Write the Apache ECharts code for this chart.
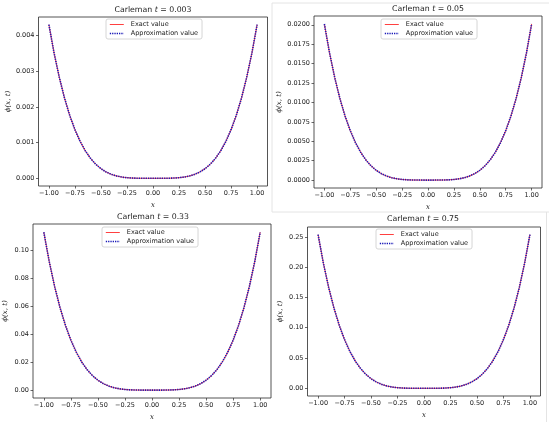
<!DOCTYPE html>
<html>
<head>
<meta charset="utf-8">
<script src="https://cdn.jsdelivr.net/npm/echarts@6/dist/echarts.min.js"></script>
<style>html,body{margin:0;padding:0;background:#fff}#c{width:550px;height:422px}</style>
</head>
<body>
<div id="c"></div>
<script>
// ---- data ----
var xs = [-1.00,-0.95,-0.90,-0.85,-0.80,-0.75,-0.70,-0.65,-0.60,-0.55,-0.50,-0.45,-0.40,-0.35,-0.30,-0.25,-0.20,-0.15,-0.10,-0.05,0.00,
          0.05,0.10,0.15,0.20,0.25,0.30,0.35,0.40,0.45,0.50,0.55,0.60,0.65,0.70,0.75,0.80,0.85,0.90,0.95,1.00];

var phi_t003 = [0.00431,0.00351,0.00283,0.00225,0.001765,0.001364,0.001035,0.000769,0.000559,0.000394,0.000269,0.000177,0.000110,0.0000647,0.0000349,0.0000168,0.0000069,0.0000022,0.0000004,0.0,0.0,
                0.0,0.0000004,0.0000022,0.0000069,0.0000168,0.0000349,0.0000647,0.000110,0.000177,0.000269,0.000394,0.000559,0.000769,0.001035,0.001364,0.001765,0.00225,0.00283,0.00351,0.00431];
var phi_t05 = [0.0201,0.01637,0.01319,0.01049,0.00823,0.00636,0.00483,0.00359,0.00260,0.00184,0.001256,0.000824,0.000515,0.000302,0.000163,0.0000785,0.0000322,0.0000102,0.000002,0.0000001,0.0,
               0.0000001,0.000002,0.0000102,0.0000322,0.0000785,0.000163,0.000302,0.000515,0.000824,0.001256,0.00184,0.00260,0.00359,0.00483,0.00636,0.00823,0.01049,0.01319,0.01637,0.0201];
var phi_t33 = [0.113,0.09204,0.07414,0.05899,0.04628,0.03575,0.02713,0.02017,0.01464,0.01034,0.00706,0.00463,0.00289,0.00170,0.000915,0.000441,0.000181,0.0000572,0.0000113,0.0000007,0.0,
               0.0000007,0.0000113,0.0000572,0.000181,0.000441,0.000915,0.00170,0.00289,0.00463,0.00706,0.01034,0.01464,0.02017,0.02713,0.03575,0.04628,0.05899,0.07414,0.09204,0.113];
var phi_t75 = [0.2535,0.20648,0.16632,0.13233,0.10383,0.08021,0.06087,0.04525,0.03285,0.02320,0.01584,0.01040,0.00649,0.00380,0.00205,0.00099,0.000406,0.000128,0.0000254,0.0000016,0.0,
               0.0000016,0.0000254,0.000128,0.000406,0.00099,0.00205,0.00380,0.00649,0.01040,0.01584,0.02320,0.03285,0.04525,0.06087,0.08021,0.10383,0.13233,0.16632,0.20648,0.2535];

var titles = ['0.003','0.05','0.33','0.75'];
var seriesNames = ['Exact value','Approximation value'];
var xTicks = [-1.00,-0.75,-0.50,-0.25,0.00,0.25,0.50,0.75,1.00];
var yTicks1 = [0.000,0.001,0.002,0.003,0.004];
var yTicks2 = [0.0000,0.0025,0.0050,0.0075,0.0100,0.0125,0.0150,0.0175,0.0200];
var yTicks3 = [0.00,0.02,0.04,0.06,0.08,0.10];
var yTicks4 = [0.00,0.05,0.10,0.15,0.20,0.25];

// ---- layout ----
var panels = [
  {vals: phi_t003, yt: yTicks1, dec: 3, ymin: -0.000216, ymax: 0.004526, box: [38.5, 17, 267.5, 186], tx: 153, ty: 6, lg: [106, 19], yname: 27},
  {vals: phi_t05,  yt: yTicks2, dec: 4, ymin: -0.00102,  ymax: 0.02113,  box: [314, 16, 542, 188],   tx: 428, ty: 5, lg: [381, 19], yname: 31},
  {vals: phi_t33,  yt: yTicks3, dec: 2, ymin: -0.00565,  ymax: 0.1189,   box: [33, 224, 271, 398],   tx: 153, ty: 213, lg: [102, 227], yname: 24},
  {vals: phi_t75,  yt: yTicks4, dec: 2, ymin: -0.0127,   ymax: 0.2662,   box: [307.5, 227, 540.5, 396], tx: 423, ty: 215, lg: [376, 229], yname: 24}
];

var FONT = 'DejaVu Sans';
var TXT = '#1a1a1a';
var RED = '#ff4040', BLUE = '#1a1ab8';
var opt = {
  backgroundColor: '#fff',
  animation: false,
  textStyle: {fontFamily: FONT},
  title: [], grid: [], xAxis: [], yAxis: [], legend: [], series: [],
  graphic: [
    {type: 'line', shape: {x1: 272, y1: 3, x2: 549, y2: 3}, style: {stroke: '#e4e4e4', lineWidth: 1}},
    {type: 'line', shape: {x1: 272, y1: 3, x2: 272, y2: 212}, style: {stroke: '#e4e4e4', lineWidth: 1}},
    {type: 'line', shape: {x1: 272, y1: 212, x2: 549, y2: 212}, style: {stroke: '#e4e4e4', lineWidth: 1}},
    {type: 'line', shape: {x1: 546.5, y1: 212, x2: 546.5, y2: 422}, style: {stroke: '#e4e4e4', lineWidth: 1}}
  ]
};

panels.forEach(function (p, i) {
  var b = p.box;
  opt.title.push({
    text: '{n|Carleman }{i|t}{n| = ' + titles[i] + '}',
    left: p.tx, top: p.ty, textAlign: 'center', padding: 0,
    textStyle: {fontWeight: 'normal', rich: {
      n: {fontFamily: FONT, fontSize: 7.8, color: TXT, fontWeight: 'normal'},
      i: {fontFamily: FONT, fontSize: 7.8, color: TXT, fontStyle: 'italic', fontWeight: 'normal'}
    }}
  });
  opt.grid.push({
    left: b[0], top: b[1], width: b[2] - b[0], height: b[3] - b[1],
    show: true, borderColor: '#2a2a2a', borderWidth: 0.8, backgroundColor: 'transparent'
  });
  opt.xAxis.push({
    type: 'value', gridIndex: i, min: -1.1, max: 1.1, position: 'bottom',
    name: 'x', nameLocation: 'middle', nameGap: 16,
    nameTextStyle: {fontFamily: 'DejaVu Serif', fontStyle: 'italic', fontSize: 7, color: TXT},
    axisLine: {show: false, onZero: false},
    splitLine: {show: false},
    axisTick: {show: true, length: 2.5, customValues: xTicks, lineStyle: {color: '#2a2a2a', width: 0.7}},
    axisLabel: {customValues: xTicks, fontSize: 6.5, color: TXT, margin: 4,
      formatter: function (v) { return v.toFixed(2).replace('-', '\u2212'); }}
  });
  opt.yAxis.push({
    type: 'value', gridIndex: i, min: p.ymin, max: p.ymax, position: 'left',
    name: '\u03d5(x, t)', nameLocation: 'middle', nameGap: p.yname, nameRotate: 90,
    nameTextStyle: {fontFamily: 'DejaVu Serif', fontStyle: 'italic', fontSize: 7, color: TXT},
    axisLine: {show: false, onZero: false},
    splitLine: {show: false},
    axisTick: {show: true, length: 2.5, customValues: p.yt, lineStyle: {color: '#2a2a2a', width: 0.7}},
    axisLabel: {customValues: p.yt, fontSize: 6.5, color: TXT, margin: 4,
      formatter: (function (d) { return function (v) { return v.toFixed(d); }; })(p.dec)}
  });
  var pts = xs.map(function (x, k) { return [x, p.vals[k]]; });
  opt.series.push({
    name: seriesNames[0], type: 'line', xAxisIndex: i, yAxisIndex: i,
    data: pts, showSymbol: false, symbol: 'none', smooth: false,
    color: RED, lineStyle: {color: RED, width: 1}, z: 2
  });
  opt.series.push({
    name: seriesNames[1], type: 'line', xAxisIndex: i, yAxisIndex: i,
    data: pts, showSymbol: false, symbol: 'none', smooth: false,
    color: BLUE, lineStyle: {color: BLUE, width: 1.6, type: [1.3, 1.0]}, z: 3
  });
  opt.legend.push({
    data: [
      {name: seriesNames[0], itemStyle: {color: 'rgba(0,0,0,0)', borderColor: 'rgba(0,0,0,0)', borderWidth: 0, opacity: 0},
       lineStyle: {color: RED, width: 1, type: 'solid', opacity: 1}},
      {name: seriesNames[1], itemStyle: {color: 'rgba(0,0,0,0)', borderColor: 'rgba(0,0,0,0)', borderWidth: 0, opacity: 0},
       lineStyle: {color: BLUE, width: 1.6, type: [1.3, 1.0], opacity: 1}}
    ],
    orient: 'vertical', left: p.lg[0], top: p.lg[1],
    itemWidth: 14, itemHeight: 8, itemGap: 2, padding: [2, 4, 2, 3],
    borderColor: '#cccccc', borderWidth: 0.8, borderRadius: 2, backgroundColor: 'rgba(255,255,255,0.85)',
    textStyle: {fontFamily: FONT, fontSize: 6.5, color: TXT, padding: [0, 0, 0, 2]},
    selectedMode: false
  });
});

var chart = echarts.init(document.getElementById('c'), null, {renderer: 'canvas'});
chart.setOption(opt);
</script>
</body>
</html>
